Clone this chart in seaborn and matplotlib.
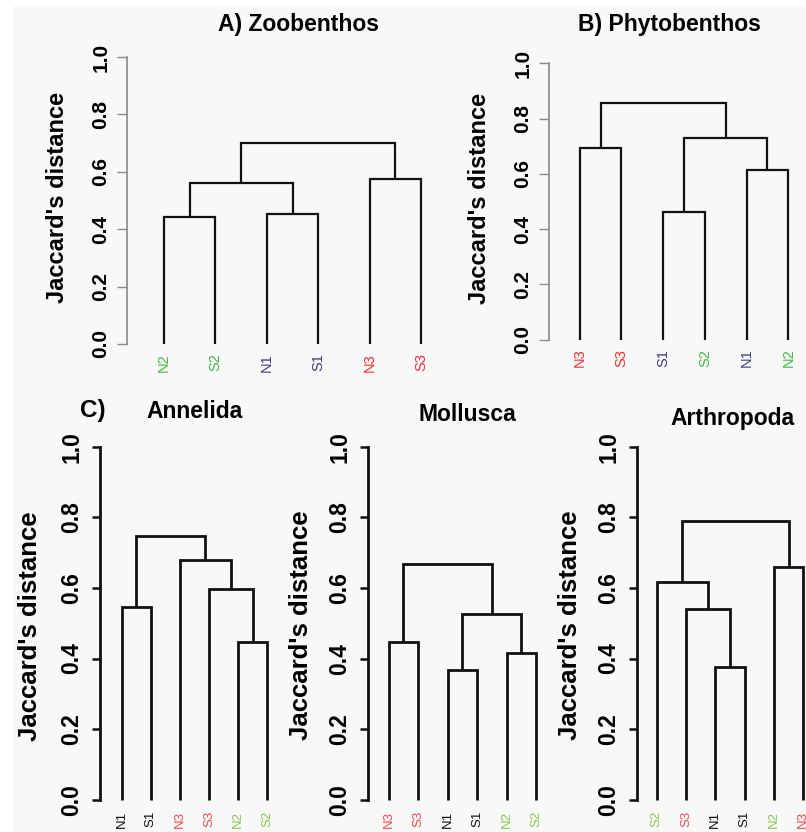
import numpy as np
import pandas as pd
import matplotlib
matplotlib.use("Agg")
import matplotlib.pyplot as plt
import seaborn as sns
from matplotlib.patches import Rectangle

# ---------------- data ----------------
zoo_leaves = ["N2", "S2", "N1", "S1", "N3", "S3"]
zoo_merge = [(-1, -2), (-3, -4), (1, 2), (-5, -6), (3, 4)]
zoo_height = [0.443, 0.452, 0.562, 0.575, 0.701]

phyto_leaves = ["N3", "S3", "S1", "S2", "N1", "N2"]
phyto_merge = [(-1, -2), (-3, -4), (-5, -6), (2, 3), (1, 4)]
phyto_height = [0.694, 0.462, 0.613, 0.730, 0.856]

annel_leaves = ["N1", "S1", "N3", "S3", "N2", "S2"]
annel_merge = [(-1, -2), (-5, -6), (-4, 2), (-3, 3), (1, 4)]
annel_height = [0.546, 0.448, 0.596, 0.679, 0.748]

moll_leaves = ["N3", "S3", "N1", "S1", "N2", "S2"]
moll_merge = [(-1, -2), (-3, -4), (-5, -6), (2, 3), (1, 4)]
moll_height = [0.447, 0.368, 0.415, 0.526, 0.667]

arth_leaves = ["S2", "S3", "N1", "S1", "N2", "N3"]
arth_merge = [(-3, -4), (-2, 1), (-1, 2), (-5, -6), (3, 4)]
arth_height = [0.375, 0.540, 0.618, 0.659, 0.790]

y_ticks = [0.0, 0.2, 0.4, 0.6, 0.8, 1.0]
y_ticklabels = ["0.0", "0.2", "0.4", "0.6", "0.8", "1.0"]
ylabel_text = "Jaccard's distance"

top_colors = {"N1": "#3b3b8c", "S1": "#3b3b8c", "N2": "#3cbd3c", "S2": "#3cbd3c",
              "N3": "#ff2a2a", "S3": "#ff2a2a"}
bot_colors = {"N1": "#111111", "S1": "#111111", "N2": "#84cc44", "S2": "#84cc44",
              "N3": "#ff4646", "S3": "#ff4646"}

# ---------------- style ----------------
sns.set_theme(style="white")
plt.rcParams["font.family"] = ["Liberation Sans", "DejaVu Sans"]
plt.rcParams["text.color"] = "black"
plt.rcParams["axes.labelcolor"] = "black"
plt.rcParams["xtick.color"] = "black"
plt.rcParams["ytick.color"] = "black"

W, H = 806, 832
fig = plt.figure(figsize=(W / 100, H / 100), dpi=100)
fig.patch.set_facecolor("white")
fig.patches.append(Rectangle((13 / W, 0), 1 - 13 / W, 1 - 6 / H, transform=fig.transFigure,
                             facecolor="#f8f8f8", edgecolor="none", zorder=-10))


def segments(merge, height):
    """Build U-shaped link segments (R hclust convention) from merge table."""
    pos, hts = {}, {}
    rows = []
    for i, ((a, b), h) in enumerate(zip(merge, height), start=1):
        def get(c):
            if c < 0:
                return float(-c), 0.0
            return pos[c], hts[c]
        xa, ha = get(a)
        xb, hb = get(b)
        pos[i] = (xa + xb) / 2.0
        hts[i] = h
        for x, y in [(xa, ha), (xa, h), (xb, h), (xb, hb)]:
            rows.append({"seg": i, "x": x, "y": y})
    return pd.DataFrame(rows)


def panel(leaves, merge, height, colors, geo, top):
    axis_x, leaf1, leaf6, y0, y1, right, lab_x, lab_y = geo
    ux = (leaf6 - leaf1) / 5.0
    uy = y0 - y1
    ytop = 1.05
    ax = fig.add_axes([axis_x / W, 1 - y0 / H, (right - axis_x) / W, ytop * uy / H])
    ax.set_facecolor("none")
    df = segments(merge, height)
    lw = 1.6 if top else 2.0
    sns.lineplot(data=df, x="x", y="y", units="seg", estimator=None, sort=False,
                 color="#111111", lw=lw, ax=ax, legend=False)
    for ln in ax.lines:
        ln.set_clip_on(False)
        ln.set_solid_joinstyle("miter")
        ln.set_solid_capstyle("butt")
    ax.set_xlim(1 - (leaf1 - axis_x) / ux, 6 + (right - leaf6) / ux)
    ax.set_ylim(0, ytop)
    for s in ["top", "right", "bottom"]:
        ax.spines[s].set_visible(False)
    spc = "#8a8a8a" if top else "#111111"
    ax.spines["left"].set_bounds(0, 1)
    ax.spines["left"].set_color(spc)
    ax.spines["left"].set_linewidth(1.2 if top else 2.0)
    fs_tick = 15 if top else 16.5
    ax.set_yticks(y_ticks)
    ax.set_yticklabels(y_ticklabels, rotation=90, va="center", fontweight="bold",
                       fontsize=fs_tick, color="black")
    ax.tick_params(axis="y", direction="out", length=7 if top else 5.8,
                   width=1.0 if top else 1.8, color=spc, pad=5 if top else 6,
                   left=True)
    ax.set_xticks(range(1, 7))
    ax.set_xticklabels(leaves, rotation=90, va="top", ha="center",
                       fontsize=10.5 if top else 9.5)
    for t, name in zip(ax.get_xticklabels(), leaves):
        t.set_color(colors[name])
    ax.tick_params(axis="x", length=0, pad=6.5 if top else 8)
    ax.set_xlabel("")
    ax.set_ylabel(ylabel_text, fontsize=17 if top else 18.5, fontweight="bold",
                  va="center", color="black")
    ax.yaxis.set_label_coords((lab_x - axis_x) / (right - axis_x),
                              (y0 - lab_y) / (ytop * uy))
    return ax


def ftext(x, y, s, size):
    fig.text(x / W, 1 - y / H, s, ha="center", va="center", fontsize=size,
             fontweight="bold", color="black")


panel(zoo_leaves, zoo_merge, zoo_height, top_colors,
      (127, 164, 421, 344, 57, 447, 58, 197), True)
panel(phyto_leaves, phyto_merge, phyto_height, top_colors,
      (549, 579.7, 788.3, 339.7, 63.3, 806, 479, 198), True)
panel(annel_leaves, annel_merge, annel_height, bot_colors,
      (100, 121.7, 267.3, 799.7, 446.7, 282, 30, 626), False)
panel(moll_leaves, moll_merge, moll_height, bot_colors,
      (367.7, 388.7, 536, 800, 446.7, 550, 301, 625), False)
panel(arth_leaves, arth_merge, arth_height, bot_colors,
      (636.7, 656.7, 803.3, 799.7, 446.7, 818, 570, 625), False)

ftext(298, 25, "A) Zoobenthos", 16.5)
ftext(669, 25, "B) Phytobenthos", 16.5)
ftext(93, 410, "C)", 17.5)
ftext(195, 412, "Annelida", 16.5)
ftext(467, 415, "Mollusca", 16.5)
ftext(732, 418, "Arthropoda", 16.5)

fig.savefig("out.png", dpi=100, facecolor=fig.get_facecolor())
